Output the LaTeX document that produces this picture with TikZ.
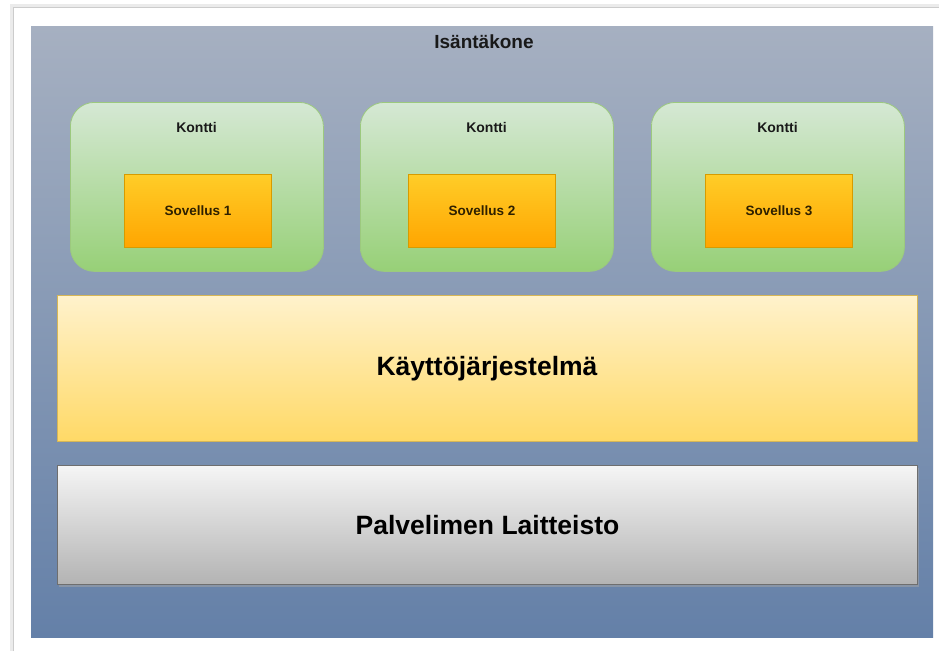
\documentclass[tikz,border=0pt]{standalone}
\usepackage{fontspec}
\setmainfont{Liberation Sans}
\definecolor{hosttop}{HTML}{A6B0C1}
\definecolor{hostbot}{HTML}{6480A8}
\definecolor{kontop}{HTML}{D5E8D4}
\definecolor{konbot}{HTML}{97D077}
\definecolor{konline}{HTML}{9CC97E}
\definecolor{sovtop}{HTML}{FFCD28}
\definecolor{sovbot}{HTML}{FFA500}
\definecolor{sovline}{HTML}{D79B00}
\definecolor{sovtext}{HTML}{2E2000}
\definecolor{ostop}{HTML}{FFF2CC}
\definecolor{osbot}{HTML}{FFD966}
\definecolor{osline}{HTML}{D6B656}
\definecolor{hwtop}{HTML}{F5F5F5}
\definecolor{hwbot}{HTML}{B3B3B3}
\definecolor{hwline}{HTML}{6E6E6E}
\tikzset{
  hostbox/.style={rectangle, draw=none, top color=hosttop, bottom color=hostbot, anchor=north west, inner sep=0pt},
  konbox/.style={rectangle, rounded corners=24pt, draw=konline, line width=0.8pt, top color=kontop, bottom color=konbot, anchor=north west, minimum width=253pt, minimum height=169pt, inner sep=0pt},
  sovbox/.style={rectangle, draw=sovline, line width=0.8pt, top color=sovtop, bottom color=sovbot, anchor=north west, minimum width=147pt, minimum height=73pt, inner sep=0pt, text=sovtext, font=\bfseries\fontsize{13.5}{16}\selectfont},
  osbox/.style={rectangle, draw=osline, line width=1pt, top color=ostop, bottom color=osbot, anchor=north west, inner sep=0pt, font=\bfseries\fontsize{26.5}{30}\selectfont},
  hwbox/.style={rectangle, draw=hwline, line width=1pt, top color=hwtop, bottom color=hwbot, anchor=north west, inner sep=0pt, font=\bfseries\fontsize{26.5}{30}\selectfont},
  lbl/.style={inner sep=0pt, text=black!90, font=\bfseries\fontsize{14}{16}\selectfont},
  ttl/.style={inner sep=0pt, text=black!90, font=\bfseries\fontsize{19}{22}\selectfont}
}
\begin{document}
\begin{tikzpicture}[x=1pt,y=-1pt]
\useasboundingbox (0,0) rectangle (939,651);
\fill[white] (0,0) rectangle (939,651);
\draw[black!8, line width=4pt] (12,651) -- (12,6) -- (939,6);
\draw[black!20, line width=1.2pt] (13.5,651) -- (13.5,7.5) -- (939,7.5);
\node[hostbox, minimum width=902pt, minimum height=611pt] (host) at (31,26) {};
\node[ttl] (title) at (484,41.5) {Isäntäkone};
% containers
\node[konbox] (k1) at (70,102) {};
\node[konbox] (k2) at (360,102) {};
\node[konbox] (k3) at (651,102) {};
\node[lbl] (k1l) at (196.5,127) {Kontti};
\node[lbl] (k2l) at (486.5,127) {Kontti};
\node[lbl] (k3l) at (777.5,127) {Kontti};
\node[sovbox] (s1) at (124,174) {Sovellus 1};
\node[sovbox] (s2) at (408,174) {Sovellus 2};
\node[sovbox] (s3) at (705,174) {Sovellus 3};
% OS
\node[osbox, minimum width=860pt, minimum height=146pt] (os) at (56.5,295) {Käyttöjärjestelmä};
% hardware shadow
\fill[black!35, opacity=0.5] (59,468) rectangle (919,586.5);
\node[hwbox, minimum width=860pt, minimum height=119pt] (hw) at (57,465) {Palvelimen Laitteisto};
\end{tikzpicture}
\end{document}
